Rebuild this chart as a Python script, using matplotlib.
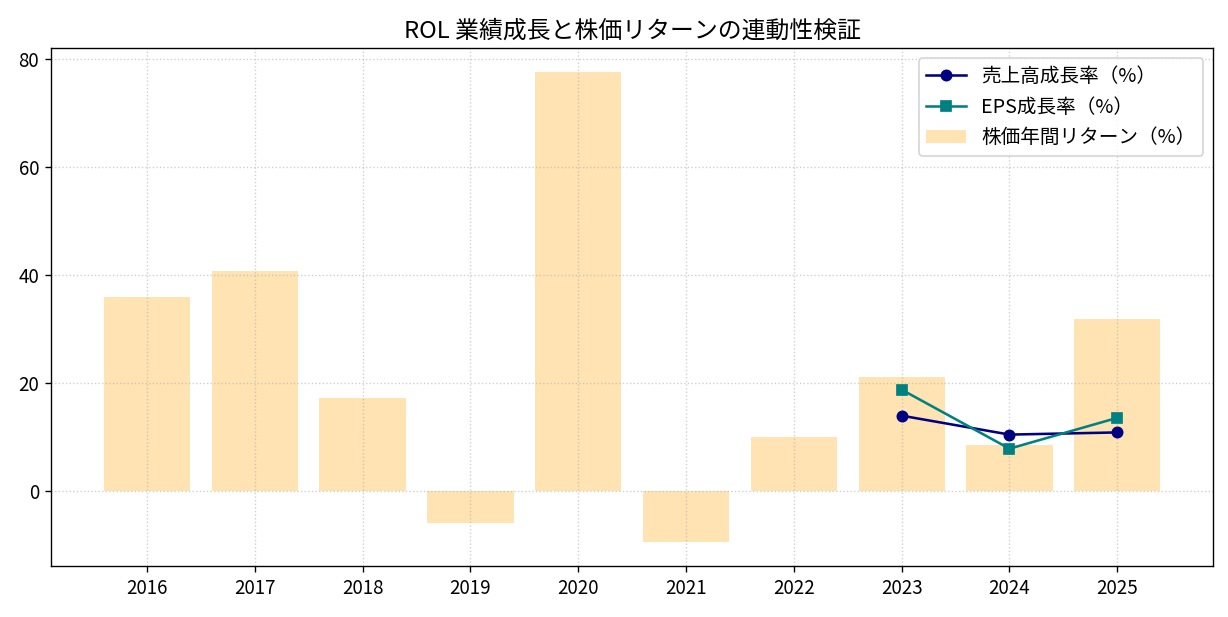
import numpy as np
import matplotlib
matplotlib.use('Agg')
import matplotlib.pyplot as plt

plt.rcParams['font.family'] = ['Noto Sans CJK JP', 'DejaVu Sans']
plt.rcParams['xtick.labelsize'] = 11
plt.rcParams['ytick.labelsize'] = 11

# data
years = ['2016', '2017', '2018', '2019', '2020', '2021', '2022', '2023', '2024', '2025']
stock_return = [35.9, 40.7, 17.3, -5.9, 77.6, -9.4, 10.0, 21.2, 8.5, 31.9]
line_years = ['2023', '2024', '2025']
sales_growth = [14.0, 10.5, 10.9]
eps_growth = [18.8, 7.9, 13.6]

fig = plt.figure(figsize=(10, 5.025), dpi=122.8)
ax = fig.add_axes([0.0415, 0.083, 0.9465, 0.839])

x = np.arange(len(years))
pos = {y: i for i, y in enumerate(years)}
lx = [pos[y] for y in line_years]

ax.bar(x, stock_return, width=0.8, color='orange', alpha=0.3, label='株価年間リターン（%）')
ax.plot(lx, sales_growth, color='navy', marker='o', label='売上高成長率（%）')
ax.plot(lx, eps_growth, color='teal', marker='s', label='EPS成長率（%）')

ax.set_xticks(x)
ax.set_xticklabels(years)
ax.set_title('ROL 業績成長と株価リターンの連動性検証', fontsize=14)
ax.grid(True, linestyle=':', alpha=0.6)
ax.legend(loc='upper right', fontsize=11.5)

fig.savefig('out.png', dpi=122.8)
